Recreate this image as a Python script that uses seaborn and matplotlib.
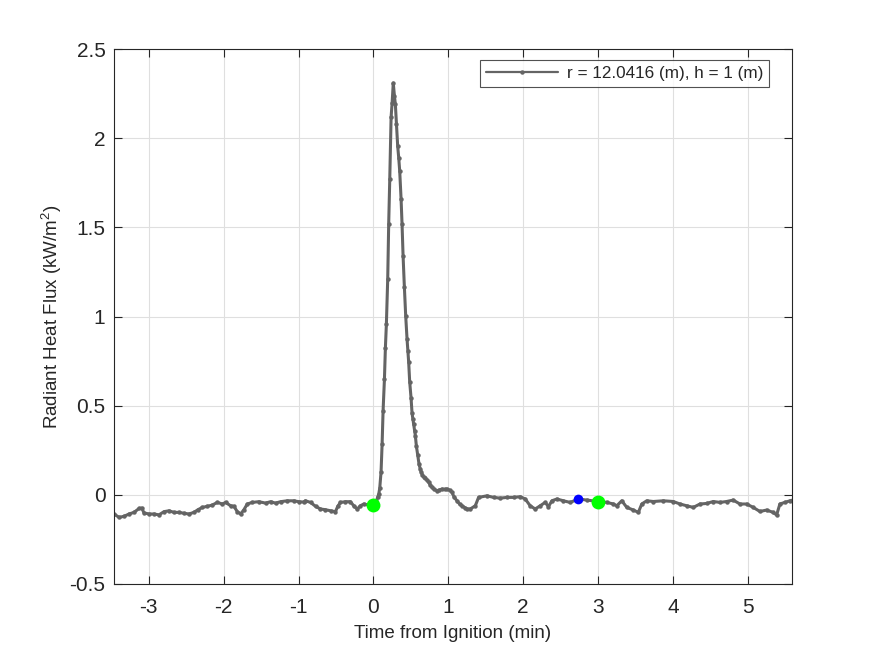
import numpy as np
import pandas as pd
import seaborn as sns
import matplotlib.pyplot as plt

# time from ignition (min) and radiant heat flux (kW/m^2)
t_pre = [-3.50, -3.463, -3.396, -3.329, -3.263, -3.196, -3.129, -3.093, -3.063,
         -2.996, -2.929, -2.863, -2.796, -2.729, -2.663, -2.596, -2.529, -2.463,
         -2.396, -2.343, -2.284, -2.217, -2.151, -2.084, -2.017, -1.973, -1.907,
         -1.863, -1.817, -1.773, -1.729, -1.684, -1.617, -1.529, -1.440, -1.373,
         -1.307, -1.240, -1.151, -1.063, -0.996, -0.929, -0.907, -0.840, -0.773,
         -0.707, -0.640, -0.573, -0.507, -0.476, -0.440, -0.373, -0.307, -0.263,
         -0.217, -0.173, -0.129, -0.063, 0.0]
q_pre = [-0.110, -0.108, -0.127, -0.121, -0.108, -0.099, -0.077, -0.075, -0.102,
         -0.108, -0.108, -0.113, -0.095, -0.090, -0.099, -0.099, -0.104, -0.108,
         -0.099, -0.084, -0.071, -0.065, -0.058, -0.043, -0.052, -0.043, -0.062,
         -0.065, -0.095, -0.108, -0.084, -0.052, -0.043, -0.039, -0.047, -0.039,
         -0.047, -0.039, -0.034, -0.034, -0.039, -0.041, -0.034, -0.043, -0.065,
         -0.080, -0.084, -0.090, -0.095, -0.065, -0.043, -0.039, -0.039, -0.062,
         -0.080, -0.062, -0.052, -0.058, -0.060]

t_peak = [0.020, 0.040, 0.056, 0.071, 0.084, 0.102, 0.116, 0.129, 0.147, 0.160,
          0.173, 0.191, 0.204, 0.218, 0.236, 0.250, 0.265, 0.280, 0.293, 0.307,
          0.324, 0.338, 0.351, 0.369, 0.382, 0.396, 0.413, 0.431, 0.449, 0.460,
          0.471, 0.484, 0.502, 0.516, 0.527, 0.538, 0.549, 0.560, 0.573, 0.591,
          0.609, 0.625, 0.640, 0.655, 0.670, 0.693, 0.710, 0.738, 0.760, 0.782,
          0.810, 0.849, 0.880, 0.916, 0.950, 0.982, 1.020, 1.049, 1.080, 1.116,
          1.150, 1.182, 1.220, 1.249, 1.293, 1.360]
q_peak = [-0.050, -0.035, -0.015, 0.004, 0.035, 0.129, 0.284, 0.471, 0.648, 0.826,
          0.957, 1.213, 1.521, 1.769, 2.119, 2.200, 2.310, 2.240, 2.190, 2.081,
          1.956, 1.890, 1.816, 1.661, 1.521, 1.340, 1.168, 1.003, 0.873, 0.805,
          0.742, 0.635, 0.545, 0.456, 0.425, 0.396, 0.360, 0.331, 0.275, 0.223,
          0.172, 0.145, 0.125, 0.110, 0.100, 0.094, 0.085, 0.069, 0.055, 0.041,
          0.030, 0.022, 0.027, 0.032, 0.030, 0.032, 0.025, 0.013, -0.015, -0.034,
          -0.052, -0.062, -0.072, -0.080, -0.080, -0.062]

t_post = [1.404, 1.516, 1.604, 1.693, 1.783, 1.871, 1.960, 2.027, 2.093, 2.160,
          2.227, 2.293, 2.337, 2.383, 2.449, 2.537, 2.627, 2.737, 2.849, 3.004,
          3.116, 3.204, 3.249, 3.316, 3.383, 3.471, 3.537, 3.583, 3.649, 3.737,
          3.871, 4.004, 4.093, 4.183, 4.271, 4.360, 4.449, 4.537, 4.627, 4.716,
          4.804, 4.893, 4.983, 5.071, 5.160, 5.249, 5.337, 5.383, 5.427, 5.493,
          5.560, 5.600]
q_post = [-0.015, -0.006, -0.015, -0.019, -0.015, -0.015, -0.011, -0.024, -0.062, -0.080,
          -0.062, -0.043, -0.067, -0.034, -0.024, -0.034, -0.043, -0.024, -0.030, -0.038,
          -0.043, -0.052, -0.062, -0.034, -0.071, -0.086, -0.099, -0.052, -0.034, -0.038,
          -0.034, -0.038, -0.052, -0.062, -0.071, -0.052, -0.049, -0.038, -0.043, -0.038,
          -0.030, -0.052, -0.052, -0.071, -0.094, -0.086, -0.099, -0.114, -0.052, -0.043,
          -0.034, -0.030]

# highlighted points
t_green = [0.0, 3.004]
q_green = [-0.060, -0.038]
t_blue = [2.737]
q_blue = [-0.024]

x_ticks = [-3, -2, -1, 0, 1, 2, 3, 4, 5]
y_ticks = [-0.5, 0, 0.5, 1, 1.5, 2, 2.5]

df = pd.DataFrame({'t': t_pre + t_peak + t_post, 'q': q_pre + q_peak + q_post})

sns.set_style('white')
plt.rcParams['font.family'] = ['Liberation Sans', 'DejaVu Sans']
plt.rcParams['mathtext.fontset'] = 'custom'
plt.rcParams['mathtext.rm'] = 'Liberation Sans'
plt.rcParams['mathtext.it'] = 'Liberation Sans'

fig = plt.figure(figsize=(8.75, 6.56), dpi=100)
ax = fig.add_axes([0.13, 0.11, 0.775, 0.815])

sns.lineplot(data=df, x='t', y='q', ax=ax, color='#646464', linewidth=2.2,
             marker='o', markersize=3.2, markeredgewidth=0, sort=False,
             label='r = 12.0416 (m), h = 1 (m)')
ax.plot(t_green, q_green, 'o', color='#00ff00', markersize=10, markeredgewidth=0)
ax.plot(t_blue, q_blue, 'o', color='#0000ff', markersize=7, markeredgewidth=0)

ax.set_xlim(-3.467, 5.587)
ax.set_ylim(-0.5, 2.5)
ax.set_xticks(x_ticks)
ax.set_xticklabels([str(v) for v in x_ticks])
ax.set_yticks(y_ticks)
ax.set_yticklabels([f'{v:g}' for v in y_ticks])
ax.grid(True, color='#dfdfdf', linewidth=0.8)
ax.set_axisbelow(True)
ax.tick_params(direction='in', length=6, width=0.8, color='#262626',
               labelsize=15, labelcolor='#262626', top=True, right=True,
               bottom=True, left=True, pad=6)
ax.tick_params(axis='x', pad=10)
for s in ax.spines.values():
    s.set_visible(True)
    s.set_color('#262626')
    s.set_linewidth(0.8)

ax.set_xlabel('Time from Ignition (min)', fontsize=13.5, color='#262626', labelpad=6)
ax.set_ylabel('Radiant Heat Flux (kW/m$^2$)', fontsize=13.5, color='#262626', labelpad=4)

leg = ax.legend(loc='upper right', bbox_to_anchor=(0.9664, 0.98), fontsize=12.3,
                frameon=True, fancybox=False, edgecolor='#262626', borderaxespad=0,
                handlelength=4.2, borderpad=0.35, handletextpad=0.5)
leg.get_frame().set_linewidth(0.8)
leg.get_lines()[0].set_linewidth(1.6)

fig.savefig('out.png', dpi=100)
